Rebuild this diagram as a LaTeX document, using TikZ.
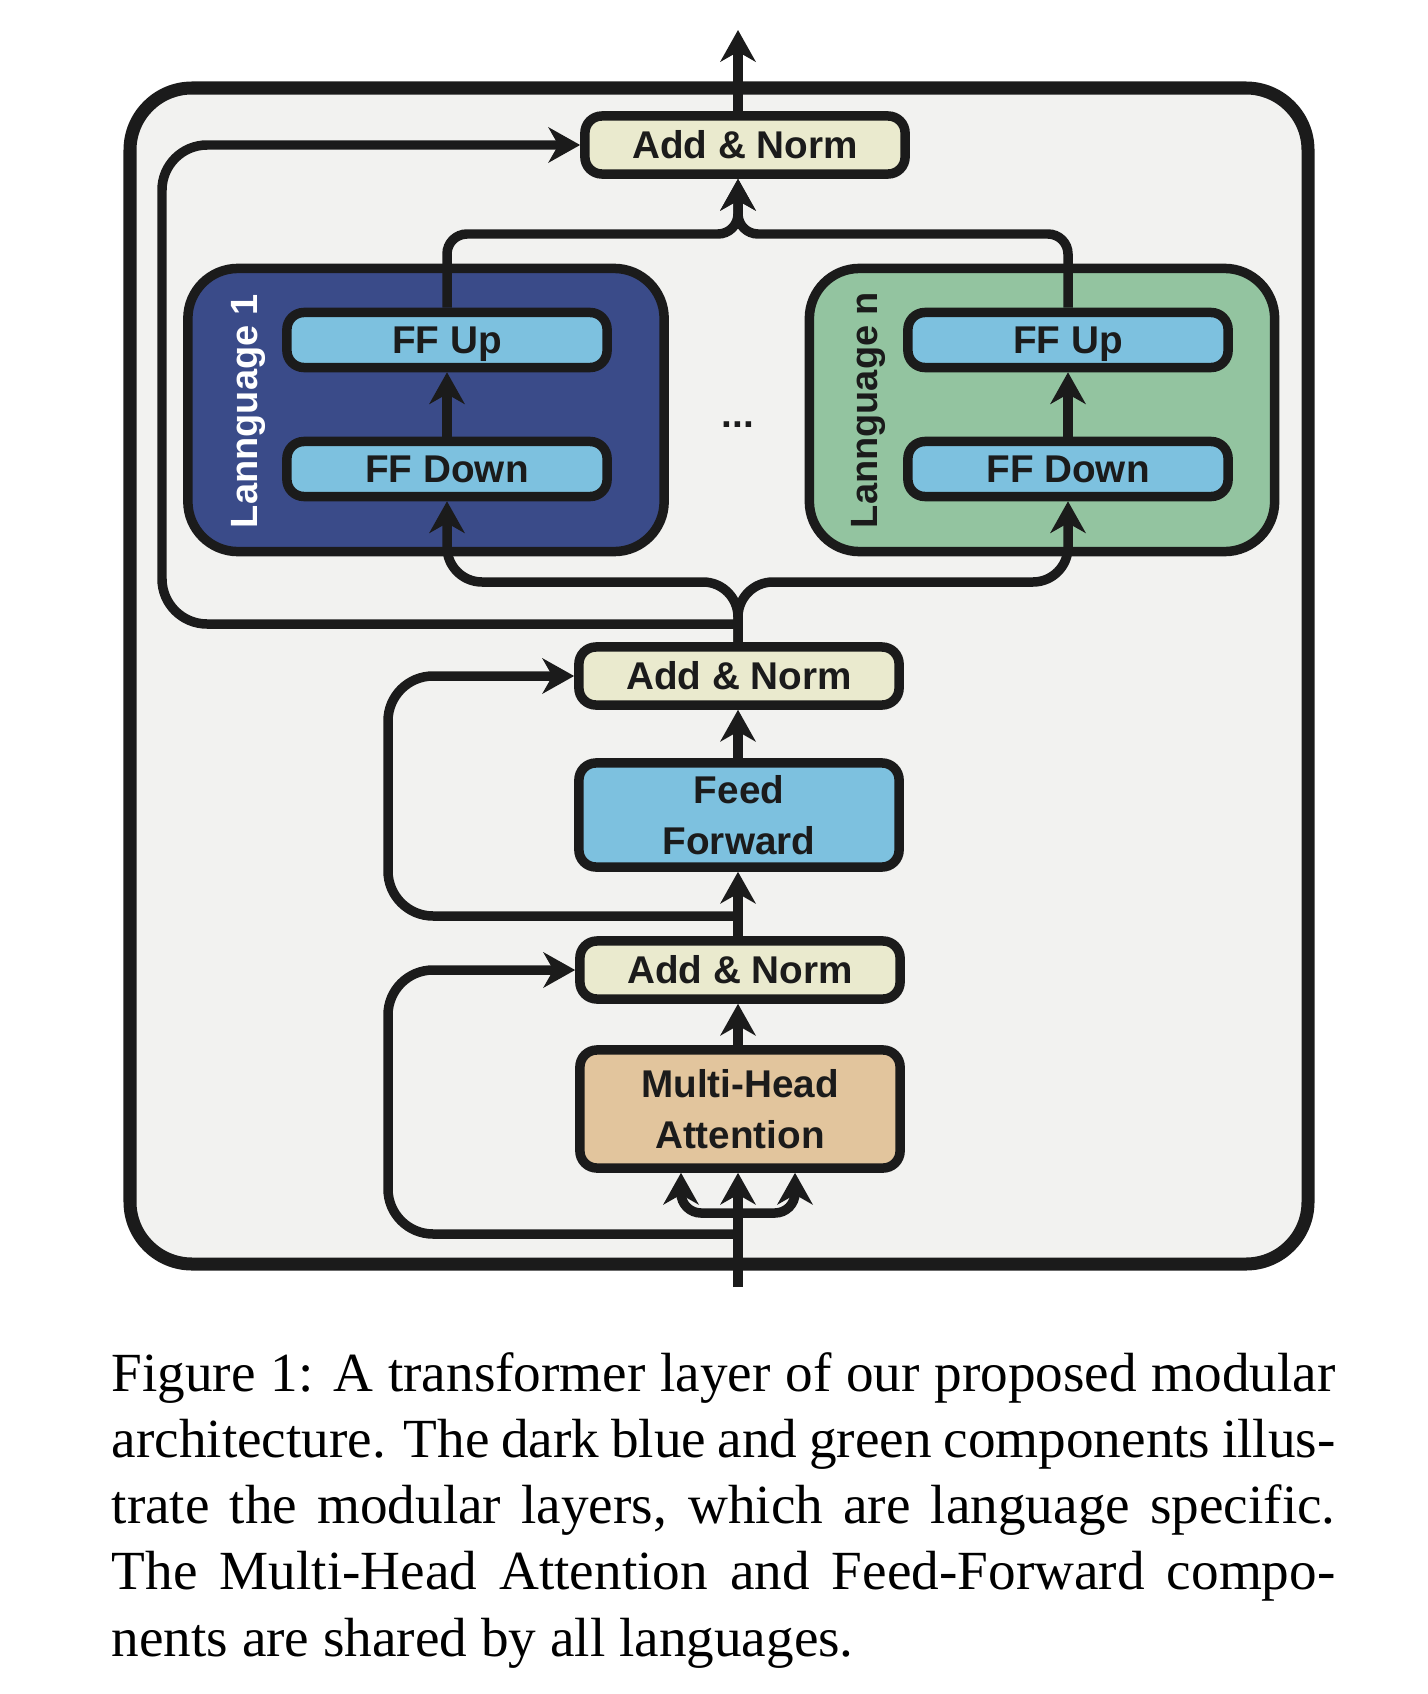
\documentclass[tikz,border=0pt]{standalone}
\usepackage{fontspec}
\setmainfont{Liberation Serif}
\setsansfont{Liberation Sans}
\usetikzlibrary{arrows.meta,calc}

\definecolor{inkc}{HTML}{1B1B1B}
\definecolor{bgc}{HTML}{F2F2F0}
\definecolor{normc}{HTML}{EAEACE}
\definecolor{ffc}{HTML}{7DC1DF}
\definecolor{mhac}{HTML}{E2C59D}
\definecolor{lang1c}{HTML}{3A4B89}
\definecolor{langnc}{HTML}{93C4A0}

\tikzstyle{block} = [draw=inkc, line width=2.7pt, rounded corners=0.17cm, inner sep=0pt, align=center, text=inkc, font=\sffamily\bfseries\fontsize{11}{14.6}\selectfont]
\tikzstyle{addnorm} = [block, fill=normc, minimum width=3.2cm, minimum height=0.58cm]
\tikzstyle{ffbox} = [block, fill=ffc, minimum width=3.2cm, minimum height=0.55cm, text depth=0pt]
\tikzstyle{langbox} = [draw=inkc, line width=2.7pt, rounded corners=0.5cm, minimum height=2.83cm]
\tikzstyle{langlabel} = [rotate=90, anchor=base, inner sep=0pt, font=\sffamily\bfseries\fontsize{10.8}{13}\selectfont]
\tikzstyle{flow} = [draw=inkc, line width=2.7pt, -{Stealth[length=9pt,width=10pt,inset=2.8pt]}]
\tikzstyle{layerframe} = [draw=inkc, line width=3.7pt, fill=bgc, rounded corners=0.62cm]

\begin{document}
\begin{tikzpicture}[x=0.01cm, y=-0.01cm]
	\useasboundingbox (0,0) rectangle (1428,1694);

	\draw[layerframe] (130,88) rectangle (1308,1264);

	% language specific modules
	\node[langbox, fill=lang1c, minimum width=4.76cm] (lang1) at (426,410) {};
	\node[langbox, fill=langnc, minimum width=4.65cm] (langn) at (1042,410) {};
	\node[langlabel, text=white] (lab1) at (257,411) {Lannguage 1};
	\node[langlabel, text=inkc] (labn) at (877,410) {Lannguage n};

	\node[ffbox] (up1) at (447,340) {FF Up};
	\node[ffbox] (down1) at (447,469) {FF Down};
	\node[ffbox] (upn) at (1068,340) {FF Up};
	\node[ffbox] (downn) at (1068,469) {FF Down};
	\node[anchor=base, inner sep=0pt, text=inkc, font=\sffamily\bfseries\fontsize{11}{13}\selectfont] (dots) at (738,427) {...};

	% shared blocks
	\node[addnorm] (an3) at (745,145) {Add \& Norm};
	\node[addnorm] (an2) at (739,676) {Add \& Norm};
	\node[block, fill=ffc, minimum width=3.2cm, minimum height=1.04cm] (ff) at (739,815) {Feed\\Forward};
	\node[addnorm] (an1) at (740,970) {Add \& Norm};
	\node[block, fill=mhac, minimum width=3.2cm, minimum height=1.18cm] (mha) at (740,1109) {Multi-Head\\Attention};

	\coordinate (out) at (738,30);
	\coordinate (in) at (738,1287);
	\coordinate (fork) at (738,1213);
	\coordinate (skip1) at (738,1234);
	\coordinate (skip2) at (738,916);
	\coordinate (skip3) at (738,624);
	\coordinate (split) at (738,582);
	\coordinate (merge) at (738,234);

	\draw[flow] (in) -- (mha.south -| in);
	\draw[flow, rounded corners=0.2cm] (fork) -| ($(mha.south -| in)+(-57,0)$);
	\draw[flow, rounded corners=0.2cm] (fork) -| ($(mha.south -| in)+(57,0)$);
	\draw[flow, rounded corners=0.45cm] (skip1) -- ++(-350,0) |- (an1.west);
	\draw[flow] (mha.north -| in) -- (an1.south -| in);
	\draw[flow] (an1.north -| in) -- (ff.south -| in);
	\draw[flow, rounded corners=0.45cm] (skip2) -- ++(-350,0) |- (an2.west);
	\draw[flow] (ff.north -| in) -- (an2.south -| in);

	\draw[flow, rounded corners=0.35cm] (an2.north -| in) -- (split) -| (down1.south);
	\draw[flow, rounded corners=0.35cm] (an2.north -| in) -- (split) -| (downn.south);
	\draw[flow, rounded corners=0.45cm] (skip3) -- ++(-576,0) |- (an3.west);
	\draw[flow] (down1.north) -- (up1.south);
	\draw[flow] (downn.north) -- (upn.south);
	\draw[flow, rounded corners=0.2cm] (up1.north) |- (merge) -- (an3.south -| merge);
	\draw[flow, rounded corners=0.2cm] (upn.north) |- (merge) -- (an3.south -| merge);
	\draw[flow] (an3.north -| out) -- (out);

	\node[anchor=north west, inner sep=0pt, text width=348pt, align=justify, font=\fontsize{15.7}{18.8}\selectfont] (caption) at (111,1352) {Figure 1: A transformer layer of our proposed modular\linebreak architecture. The dark blue and green components illus-\linebreak trate the modular layers, which are language specific.\linebreak The Multi-Head Attention and Feed-Forward compo-\linebreak nents are shared by all languages.};
\end{tikzpicture}
\end{document}
